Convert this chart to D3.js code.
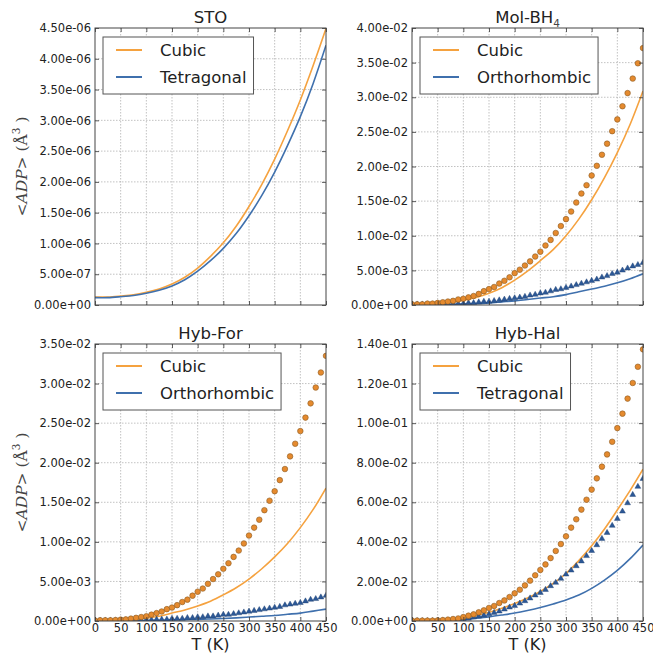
<!DOCTYPE html>
<html><head><meta charset="utf-8">
<script src="https://cdn.jsdelivr.net/npm/d3@7"></script>
<style>body{margin:0;background:#fff}svg{display:block}</style>
</head><body><svg id="c" width="653" height="656"></svg>
<script>
// ---------- DATA ----------
const lineT  = [0,25,50,75,100,125,150,175,200,225,250,275,300,325,350,375,400,425,450];
const pointT = [0,10,20,30,40,50,60,70,80,90,100,110,120,130,140,150,160,170,180,190,200,210,220,230,240,250,260,270,280,290,300,310,320,330,340,350,360,370,380,390,400,410,420,430,440,450];
const xTicks = [0,50,100,150,200,250,300,350,400,450];

// STO
const stoCubic = [1.30e-7,1.30e-7,1.45e-7,1.65e-7,2.05e-7,2.60e-7,3.40e-7,4.50e-7,6.00e-7,7.90e-7,1.01e-6,1.28e-6,1.60e-6,1.96e-6,2.37e-6,2.83e-6,3.33e-6,3.89e-6,4.49e-6];
const stoTetra = [1.20e-7,1.20e-7,1.35e-7,1.55e-7,1.90e-7,2.40e-7,3.10e-7,4.10e-7,5.50e-7,7.20e-7,9.20e-7,1.16e-6,1.45e-6,1.78e-6,2.16e-6,2.59e-6,3.06e-6,3.60e-6,4.22e-6];
const stoTicks = [0,5e-7,1e-6,1.5e-6,2e-6,2.5e-6,3e-6,3.5e-6,4e-6,4.5e-6];

// Mol-BH4
const bh4Cubic = [0.0001,0.0001,0.0002,0.0004,0.0007,0.0011,0.0017,0.0025,0.0036,0.0049,0.0064,0.0080,0.0100,0.0124,0.0152,0.0184,0.0220,0.0261,0.0309];
const bh4Ortho = [0.0001,0.0001,0.0001,0.0001,0.00015,0.0002,0.0003,0.00045,0.0006,0.0008,0.0010,0.0012,0.0015,0.0019,0.0023,0.0027,0.0032,0.0038,0.0045];
const bh4CubicPts = [0.0001,0.0001,0.0001,0.0002,0.0002,0.0003,0.0004,0.0005,0.0006,0.0008,0.0009,0.0011,0.0013,0.0016,0.0020,0.0023,0.0026,0.0031,0.0035,0.0040,0.0046,0.0051,0.0057,0.0063,0.0070,0.0077,0.0086,0.0094,0.0104,0.0114,0.0124,0.0135,0.0148,0.0161,0.0173,0.0187,0.0201,0.0217,0.0233,0.0251,0.0268,0.0287,0.0306,0.0327,0.0349,0.0371];
const bh4OrthoPts = [0.0001,0.0001,0.0001,0.0001,0.0001,0.0001,0.0001,0.0002,0.0002,0.0002,0.0002,0.0003,0.0003,0.0004,0.0005,0.0005,0.0006,0.0007,0.0008,0.0009,0.0010,0.0011,0.0012,0.0014,0.0015,0.0017,0.0018,0.0020,0.0022,0.0023,0.0025,0.0027,0.0029,0.0031,0.0033,0.0035,0.0037,0.0040,0.0042,0.0045,0.0047,0.0050,0.0053,0.0056,0.0058,0.0061];
const bh4Ticks = [0,0.005,0.01,0.015,0.02,0.025,0.03,0.035,0.04];

// Hyb-For
const forCubic = [0.00005,0.00005,0.0001,0.0002,0.0004,0.0006,0.0010,0.0014,0.0019,0.0025,0.0033,0.0042,0.0053,0.0066,0.0081,0.0098,0.0118,0.0141,0.0168];
const forOrtho = [0.00003,0.00003,0.00004,0.00005,0.00007,0.0001,0.00013,0.00017,0.0002,0.00026,0.00032,0.0004,0.0005,0.0006,0.0007,0.00085,0.0010,0.00125,0.0015];
const forCubicPts = [0.00005,0.0001,0.0001,0.0001,0.00013,0.00017,0.0002,0.0003,0.0004,0.0005,0.0006,0.0008,0.0010,0.0012,0.0015,0.0017,0.0020,0.0024,0.0027,0.0032,0.0037,0.0041,0.0047,0.0053,0.0059,0.0066,0.0073,0.0081,0.0089,0.0098,0.0108,0.0118,0.0128,0.0140,0.0152,0.0164,0.0178,0.0192,0.0208,0.0224,0.0240,0.0257,0.0275,0.0295,0.0314,0.0335];
const forOrthoPts = [0.00005,0.00005,0.00005,0.00005,0.00006,0.00008,0.0001,0.0001,0.0001,0.0001,0.00015,0.00015,0.0002,0.0002,0.0002,0.0003,0.0003,0.0003,0.0004,0.0004,0.0005,0.0005,0.0006,0.0006,0.0007,0.0008,0.0008,0.0009,0.0010,0.0011,0.0012,0.0013,0.0014,0.0015,0.0016,0.0017,0.0018,0.0020,0.0021,0.0022,0.0023,0.0025,0.0027,0.0028,0.0030,0.0032];
const forTicks = [0,0.005,0.01,0.015,0.02,0.025,0.03,0.035];

// Hyb-Hal
const halCubic = [0.0002,0.0002,0.0004,0.0008,0.0016,0.0028,0.0044,0.0064,0.0088,0.0116,0.0150,0.0190,0.0240,0.0305,0.0380,0.0465,0.0561,0.0660,0.0767];
const halTetra = [0.0001,0.0001,0.0002,0.0004,0.0008,0.0014,0.0021,0.0030,0.0040,0.0053,0.0068,0.0086,0.0106,0.0131,0.0165,0.0207,0.0256,0.0315,0.0384];
const halCubicPts = [0.0002,0.0002,0.0002,0.0002,0.0002,0.0003,0.0005,0.0007,0.0010,0.0013,0.0020,0.0027,0.0034,0.0044,0.0054,0.0066,0.0076,0.0091,0.0104,0.0121,0.0140,0.0158,0.0180,0.0204,0.0231,0.0258,0.0286,0.0318,0.0354,0.0389,0.0428,0.0472,0.0514,0.0563,0.0613,0.0664,0.0721,0.0780,0.0842,0.0906,0.0975,0.1048,0.1124,0.1203,0.1285,0.1373];
const halTetraPts = [0.0001,0.0001,0.0001,0.0001,0.0001,0.0001,0.0002,0.0003,0.0005,0.0007,0.0010,0.0013,0.0019,0.0024,0.0029,0.0035,0.0042,0.0049,0.0059,0.0069,0.0077,0.0089,0.0101,0.0115,0.0130,0.0143,0.0158,0.0177,0.0194,0.0214,0.0236,0.0256,0.0278,0.0302,0.0329,0.0355,0.0384,0.0416,0.0446,0.0482,0.0517,0.0554,0.0596,0.0638,0.0679,0.0719];
const halTicks = [0,0.02,0.04,0.06,0.08,0.10,0.12,0.14];

const titles = ["STO","Mol-BH","Hyb-For","Hyb-Hal"];
const titleSubs = ["","4","",""];
const legendA = ["Cubic","Cubic","Cubic","Cubic"];
const legendB = ["Tetragonal","Orthorhombic","Orthorhombic","Tetragonal"];

// ---------- STYLE / LAYOUT ----------
const FONT = "DejaVu Sans";
const ORANGE = "#f5a23f", BLUE = "#3f70ad";
const CFILL = "#e58a2e", CEDGE = "#8a5a24", TFILL = "#2c5896";
const TXT = "#222";

const layout = [
  {x0:95, x1:326, y0:28, y1:305, row:0, col:0},
  {x0:412,x1:643, y0:28, y1:305, row:0, col:1},
  {x0:95, x1:326, y0:344,y1:621, row:1, col:0},
  {x0:412,x1:643, y0:344,y1:621, row:1, col:1}
];

const panelData = [
  {lines:[stoCubic, stoTetra], pts:null, ticks:stoTicks},
  {lines:[bh4Cubic, bh4Ortho], pts:[bh4CubicPts, bh4OrthoPts], ticks:bh4Ticks},
  {lines:[forCubic, forOrtho], pts:[forCubicPts, forOrthoPts], ticks:forTicks},
  {lines:[halCubic, halTetra], pts:[halCubicPts, halTetraPts], ticks:halTicks}
];

function fmt(v){
  if (v === 0) return "0.00e+00";
  const s = v.toExponential(2);
  const parts = s.split("e");
  const sign = parts[1][0];
  const d = parts[1].slice(1).padStart(2,"0");
  return parts[0] + "e" + sign + d;
}

const svg = d3.select("#c");
svg.append("rect").attr("width",653).attr("height",656).attr("fill","#fff");
const defs = svg.append("defs");

layout.forEach((L, i) => {
  const D = panelData[i];
  const ticks = D.ticks;
  const ymax = ticks[ticks.length-1];
  const x = d3.scaleLinear().domain([0,450]).range([L.x0, L.x1]);
  const y = d3.scaleLinear().domain([0,ymax]).range([L.y1, L.y0]);
  const g = svg.append("g");

  defs.append("clipPath").attr("id","clip"+i)
    .append("rect").attr("x",L.x0).attr("y",L.y0).attr("width",L.x1-L.x0).attr("height",L.y1-L.y0);

  // grid
  const grid = g.append("g").attr("stroke","#a8a8a8").attr("stroke-width",0.7).attr("stroke-dasharray","1.5,1.5");
  xTicks.slice(1,-1).forEach(t => grid.append("line").attr("x1",x(t)).attr("x2",x(t)).attr("y1",L.y0).attr("y2",L.y1));
  ticks.slice(1,-1).forEach(t => grid.append("line").attr("x1",L.x0).attr("x2",L.x1).attr("y1",y(t)).attr("y2",y(t)));

  const plot = g.append("g").attr("clip-path","url(#clip"+i+")");
  const line = d3.line().x((d,k)=>x(lineT[k])).y(d=>y(d)).curve(d3.curveCatmullRom.alpha(0.5));
  [ORANGE, BLUE].forEach((col, s) => {
    plot.append("path").datum(D.lines[s]).attr("d", line)
      .attr("fill","none").attr("stroke",col).attr("stroke-width",1.6);
  });
  if (D.pts) {
    plot.selectAll(null).data(D.pts[1]).enter().append("path")
      .attr("d", d3.symbol().type(d3.symbolTriangle).size(15))
      .attr("transform",(d,k)=>`translate(${x(pointT[k])},${y(d)})`)
      .attr("fill",TFILL).attr("stroke","#1f3f6e").attr("stroke-width",0.4);
    plot.selectAll(null).data(D.pts[0]).enter().append("circle")
      .attr("cx",(d,k)=>x(pointT[k])).attr("cy",d=>y(d)).attr("r",2.8)
      .attr("fill",CFILL).attr("stroke",CEDGE).attr("stroke-width",0.6);
  }

  // axes (inward ticks)
  const ax = g.append("g").attr("color",TXT);
  const left = ax.append("g").attr("transform",`translate(${L.x0},0)`)
    .call(d3.axisLeft(y).tickValues(ticks).tickFormat(fmt).tickSizeInner(-4).tickSizeOuter(0).tickPadding(4));
  const right = ax.append("g").attr("transform",`translate(${L.x1},0)`)
    .call(d3.axisRight(y).tickValues(ticks).tickFormat("").tickSizeInner(-4).tickSizeOuter(0));
  const bottom = ax.append("g").attr("transform",`translate(0,${L.y1})`)
    .call(d3.axisBottom(x).tickValues(xTicks).tickFormat(L.row===1 ? d3.format("d") : "").tickSizeInner(-4).tickSizeOuter(0).tickPadding(3));
  const top = ax.append("g").attr("transform",`translate(0,${L.y0})`)
    .call(d3.axisTop(x).tickValues(xTicks).tickFormat("").tickSizeInner(-4).tickSizeOuter(0));
  [left,right,bottom,top].forEach(a => {
    a.select(".domain").remove();
    a.attr("font-family",FONT).attr("font-size",11.5);
    a.selectAll("line").attr("stroke","#333").attr("stroke-width",0.8);
  });

  // frame
  g.append("rect").attr("x",L.x0).attr("y",L.y0).attr("width",L.x1-L.x0).attr("height",L.y1-L.y0)
    .attr("fill","none").attr("stroke","#444").attr("stroke-width",1);

  // title
  const tt = g.append("text").attr("x",(L.x0+L.x1)/2).attr("y",L.y0-5)
    .attr("text-anchor","middle").attr("font-family",FONT).attr("font-size",16.5).attr("fill",TXT)
    .text(titles[i]);
  if (titleSubs[i]) tt.append("tspan").attr("font-size",10.5).attr("dy",4).attr("fill","#444").text(titleSubs[i]);

  // legend
  const lg = g.append("g").attr("transform",`translate(${L.x0+8},${L.y0+9})`);
  const box = lg.append("rect").attr("x",0).attr("y",0).attr("height",57)
    .attr("fill","#fff").attr("stroke","#555").attr("stroke-width",1);
  let maxW = 0;
  [[legendA[i],ORANGE,13],[legendB[i],BLUE,40]].forEach(([lab,col,yy]) => {
    lg.append("line").attr("x1",13).attr("x2",39).attr("y1",yy).attr("y2",yy)
      .attr("stroke",col).attr("stroke-width",2);
    const t = lg.append("text").attr("x",57).attr("y",yy+6).attr("font-family",FONT)
      .attr("font-size",16.5).attr("fill",TXT).text(lab);
    maxW = Math.max(maxW, t.node().getComputedTextLength());
  });
  box.attr("width", 57 + maxW + 7);

  // axis labels
  if (L.col === 0) {
    const cy = (L.y0+L.y1)/2;
    const yl = g.append("text").attr("transform",`translate(27,${cy}) rotate(-90)`)
      .attr("text-anchor","middle").attr("font-family","DejaVu Serif").attr("font-size",15.5).attr("fill","#444");
    yl.append("tspan").text("<");
    yl.append("tspan").attr("font-style","italic").text("ADP");
    yl.append("tspan").text("> (Å");
    yl.append("tspan").attr("font-size",10.5).attr("dy",-7).text("3");
    yl.append("tspan").attr("dy",7).text(" )");
  }
  if (L.row === 1) {
    g.append("text").attr("x",(L.x0+L.x1)/2).attr("y",650).attr("text-anchor","middle")
      .attr("font-family",FONT).attr("font-size",16).attr("fill",TXT).text("T (K)");
  }
});
</script>
</body></html>
